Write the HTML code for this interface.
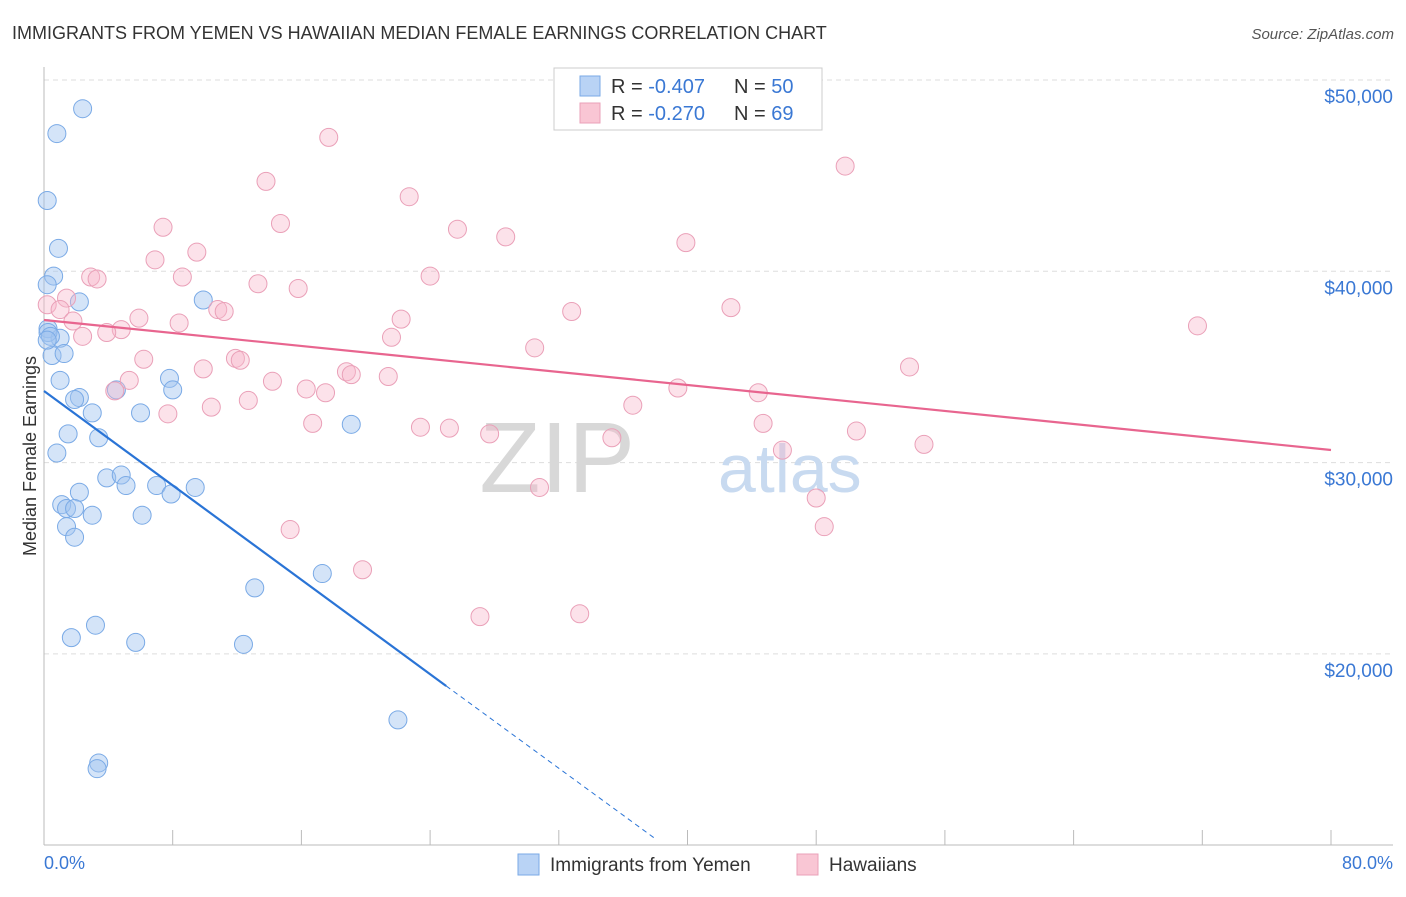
<!DOCTYPE html>
<html><head><meta charset="utf-8"><style>
body{margin:0;background:#fff;font-family:"Liberation Sans",sans-serif;}
svg text{font-family:"Liberation Sans",sans-serif;}
</style></head><body>
<svg id="chart" width="1406" height="892">
<text x="12" y="39" font-size="18" fill="#333">IMMIGRANTS FROM YEMEN VS HAWAIIAN MEDIAN FEMALE EARNINGS CORRELATION CHART</text>
<text x="1394" y="39" font-size="15" fill="#555" font-style="italic" text-anchor="end">Source: ZipAtlas.com</text>
<g id="grid"></g>
<text x="635" y="492" font-size="100" fill="#d8d8d8" text-anchor="end" font-family="Liberation Serif">ZIP</text>
<text x="718" y="492" font-size="68" fill="#c8daf0">atlas</text>
<line x1="44" y1="67" x2="44" y2="845" stroke="#bbb"/>
<line x1="44" y1="845" x2="1393" y2="845" stroke="#bbb"/>
<g id="ticks"></g>
<text x="36" y="456" font-size="18" fill="#333" text-anchor="middle" transform="rotate(-90 36 456)">Median Female Earnings</text>
<text x="44" y="869" font-size="18" fill="#3a78d4">0.0%</text>
<text x="1393" y="869" font-size="18" fill="#3a78d4" text-anchor="end">80.0%</text>
<g id="pts"></g>
<g id="trends"></g>
<g>
<rect x="554" y="68" width="268" height="62" fill="#fff" stroke="#ccc"/>
<rect x="580" y="76" width="20" height="20" fill="#b9d3f5" stroke="#7aaae6"/>
<rect x="580" y="103" width="20" height="20" fill="#f9c6d4" stroke="#eaa0b8"/>
<text x="611" y="93" font-size="20" fill="#333">R = <tspan fill="#3a78d4">-0.407</tspan><tspan x="734">N = </tspan><tspan fill="#3a78d4">50</tspan></text>
<text x="611" y="120" font-size="20" fill="#333">R = <tspan fill="#3a78d4"> -0.270</tspan><tspan x="734">N = </tspan><tspan fill="#3a78d4"> 69</tspan></text>
</g>
<g>
<rect x="518" y="854" width="21" height="21" fill="#b9d3f5" stroke="#7aaae6"/>
<text x="550" y="871" font-size="19" fill="#333">Immigrants from Yemen</text>
<rect x="797" y="854" width="21" height="21" fill="#f9c6d4" stroke="#eaa0b8"/>
<text x="829" y="871" font-size="19" fill="#333">Hawaiians</text>
</g>
</svg>
<script>
const yTicks=[20000,30000,40000,50000];
const yTickLabels=["$20,000","$30,000","$40,000","$50,000"];
const xTicks=[0,8,16,24,32,40,48,56,64,72,80];
const blueX=[2.4,0.8,0.2,0.9,0.6,0.2,2.2,9.9,0.25,1.0,0.5,1.25,1.0,2.2,1.9,4.5,7.8,8.0,3.0,6.0,1.5,3.4,19.1,0.8,3.9,4.8,5.1,2.2,7.0,7.9,9.4,1.1,1.4,1.9,3.0,6.1,1.4,1.9,17.3,13.1,1.7,3.2,5.7,12.4,22.0,3.4,3.3,0.25,0.4,0.2];
const blueY=[48500,47200,43700,41200,39750,39300,38400,38500,37000,36500,35600,35700,34300,33400,33300,33800,34400,33800,32600,32600,31500,31300,32000,30500,29200,29350,28800,28450,28800,28360,28700,27800,27600,27600,27250,27250,26650,26100,24200,23450,20850,21500,20600,20500,16550,14300,14000,36800,36600,36400];
const pinkX=[17.7,49.8,13.8,22.7,14.7,7.4,25.7,28.7,39.9,9.5,6.9,2.9,3.3,8.6,24.0,13.3,15.8,1.4,0.2,1.0,10.8,11.2,42.7,32.8,1.8,5.9,8.4,22.2,71.7,4.8,3.9,2.4,21.6,30.5,6.2,11.9,12.2,9.9,18.8,19.1,53.8,21.4,5.3,14.2,4.4,16.3,17.5,39.4,44.4,7.7,10.4,12.7,36.6,16.7,23.4,25.2,27.7,44.7,50.5,35.3,54.7,45.9,30.8,48.0,15.3,48.5,19.8,27.1,33.3];
const pinkY=[47000,45500,44700,43900,42500,42300,42200,41800,41500,41000,40600,39700,39600,39700,39750,39350,39100,38600,38250,38000,38000,37900,38100,37900,37400,37550,37300,37500,37150,36950,36800,36600,36550,36000,35400,35450,35350,34900,34750,34600,35000,34500,34300,34250,33750,33850,33650,33900,33650,32550,32900,33250,33000,32050,31850,31800,31500,32050,31650,31300,30950,30650,28700,28150,26500,26650,24400,21950,22100];
const blueTrend=[[0,33744],[25,18324]];
const blueTrendDash=[[25,18324],[38.1,10275]];
const pinkTrend=[[0,37455],[80,30660]];
const X=v=>44+v*1287/80;
const Y=v=>80+(50000-v)*0.01913;
const NS="http://www.w3.org/2000/svg";
function mk(tag,attrs,parent){const e=document.createElementNS(NS,tag);for(const k in attrs)e.setAttribute(k,attrs[k]);parent.appendChild(e);return e;}
const grid=document.getElementById('grid');
yTicks.forEach((t,i)=>{
 const l=mk('line',{x1:44,x2:1393,y1:Y(t),y2:Y(t),stroke:'#ddd','stroke-dasharray':'5,4'},grid);
 
 
 const tx=mk('text',{x:1393,y:Y(t)+23,'font-size':19,fill:'#3a78d4','text-anchor':'end'},grid);
 tx.textContent=yTickLabels[i];
 
 
});
const ticks=document.getElementById('ticks');
xTicks.forEach(t=>{
 const l=mk('line',{x1:X(t),x2:X(t),y1:830,y2:845,stroke:'#bbb'},ticks);
 
 
});
const pts=document.getElementById('pts');
blueX.forEach((x,i)=>{
 const c=mk('circle',{cx:X(x),cy:Y(blueY[i]),r:9,fill:'rgba(160,196,240,0.45)',stroke:'#7aaae6','stroke-width':1},pts);
 
 
});
pinkX.forEach((x,i)=>{
 const c=mk('circle',{cx:X(x),cy:Y(pinkY[i]),r:9,fill:'rgba(248,182,202,0.4)',stroke:'#eaa0b8','stroke-width':1},pts);
 
 
});
const tr=document.getElementById('trends');
const b=mk('line',{x1:X(blueTrend[0][0]),y1:Y(blueTrend[0][1]),x2:X(blueTrend[1][0]),y2:Y(blueTrend[1][1]),stroke:'#2a74d6','stroke-width':2.2},tr);


const bd=mk('line',{x1:X(blueTrendDash[0][0]),y1:Y(blueTrendDash[0][1]),x2:X(blueTrendDash[1][0]),y2:Y(blueTrendDash[1][1]),stroke:'#2a74d6','stroke-width':1,'stroke-dasharray':'5,4'},tr);


const p=mk('line',{x1:X(pinkTrend[0][0]),y1:Y(pinkTrend[0][1]),x2:X(pinkTrend[1][0]),y2:Y(pinkTrend[1][1]),stroke:'#e8658f','stroke-width':2.2},tr);


</script>
</body></html>
